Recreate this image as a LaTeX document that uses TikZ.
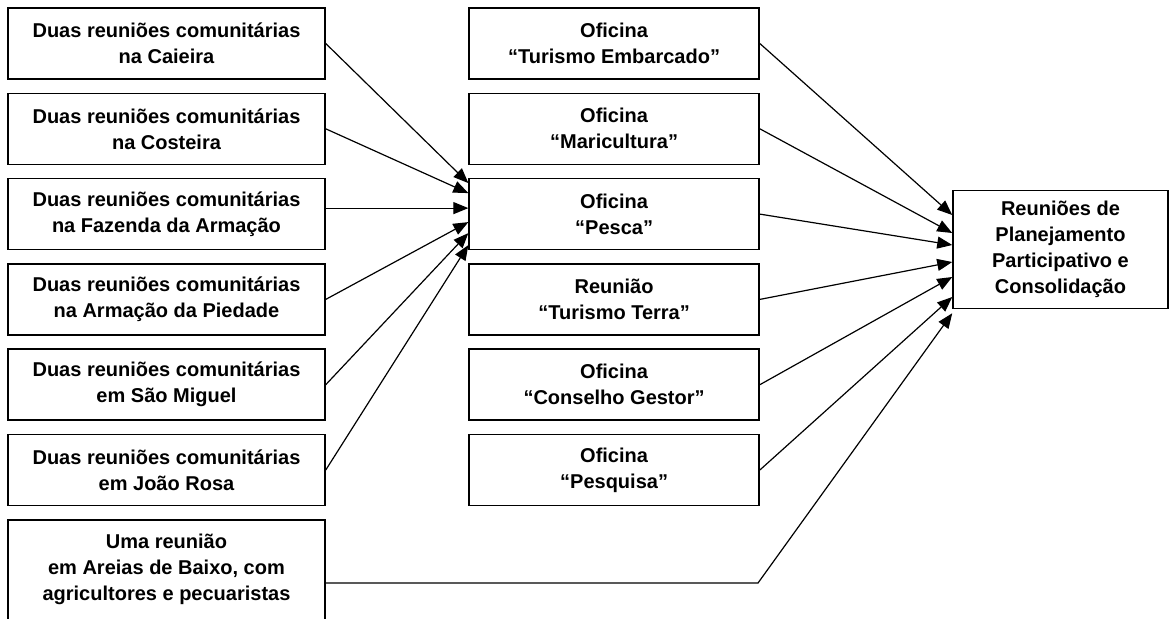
\documentclass[tikz,border=0pt]{standalone}
\usepackage{fontspec}
\setmainfont{Liberation Sans}
\usetikzlibrary{arrows.meta, positioning}

\begin{document}
\begin{tikzpicture}[
        x=0.5pt, y=-0.5pt,
        node distance=6.4pt and 71.3pt,
        every node/.style={font=\bfseries\fontsize{10}{13}\selectfont},
        box/.style={rectangle, draw, line width=0.75pt, minimum width=158.5pt, minimum height=35.5pt, align=center, inner sep=0pt},
        ofbox/.style={box, minimum width=145pt},
        arrow/.style={-{Triangle[length=7.5pt, width=6pt]}, line width=0.6pt}
    ]
        \useasboundingbox (0,0) rectangle (1169,618);
        \clip (0,0) rectangle (1169,618);
        % reunioes comunitarias
        \node[box] (caieira) at (166.5,43.5) {Duas reuniões comunitárias\\na Caieira};
        \node[box, below=of caieira] (costeira) {Duas reuniões comunitárias\\na Costeira};
        \node[box, below=of costeira] (fazenda) {Duas reuniões comunitárias\\na Fazenda da Armação};
        \node[box, below=of fazenda] (piedade) {Duas reuniões comunitárias\\na Armação da Piedade};
        \node[box, below=of piedade] (miguel) {Duas reuniões comunitárias\\em São Miguel};
        \node[box, below=of miguel] (joao) {Duas reuniões comunitárias\\em João Rosa};
        \node[box, below=of joao, minimum height=50pt] (areias) {Uma reunião\\em Areias de Baixo, com\\agricultores e pecuaristas};
        % oficinas
        \node[ofbox, right=of caieira] (embarcado) {Oficina\\“Turismo Embarcado”};
        \node[ofbox, right=of costeira] (maricultura) {Oficina\\“Maricultura”};
        \node[ofbox, right=of fazenda] (pesca) {Oficina\\“Pesca”};
        \node[ofbox, right=of piedade] (terra) {Reunião\\“Turismo Terra”};
        \node[ofbox, right=of miguel] (conselho) {Oficina\\“Conselho Gestor”};
        \node[ofbox, right=of joao] (pesquisa) {Oficina\\“Pesquisa”};
        % consolidacao
        \node[box, minimum width=107.5pt, minimum height=59pt] (planejamento) at (1060.5,249.5) {Reuniões de\\Planejamento\\Participativo e\\Consolidação};
        \coordinate (bend) at (758,583);
        \draw[arrow] (caieira.east) -- ([yshift=15.5pt]pesca.west);
        \draw[arrow] (costeira.east) -- ([yshift=10.5pt]pesca.west);
        \draw[arrow] ([yshift=3pt]fazenda.east) -- ([yshift=3pt]pesca.west);
        \draw[arrow] (piedade.east) -- ([yshift=-4pt]pesca.west);
        \draw[arrow] (miguel.east) -- ([yshift=-9.5pt]pesca.west);
        \draw[arrow] (joao.east) -- ([yshift=-15.5pt]pesca.west);
        \draw[arrow] (embarcado.east) -- ([yshift=17.25pt]planejamento.west);
        \draw[arrow] (maricultura.east) -- ([yshift=8.25pt]planejamento.west);
        \draw[arrow] (pesca.east) -- ([yshift=2.25pt]planejamento.west);
        \draw[arrow] (terra.east) -- ([yshift=-6.25pt]planejamento.west);
        \draw[arrow] (conselho.east) -- ([yshift=-13.75pt]planejamento.west);
        \draw[arrow] (pesquisa.east) -- ([yshift=-23.75pt]planejamento.west);
        \draw[arrow] (areias.east |- bend) -- (bend) -- ([yshift=-2pt]planejamento.south west);
    \end{tikzpicture}
\end{document}
